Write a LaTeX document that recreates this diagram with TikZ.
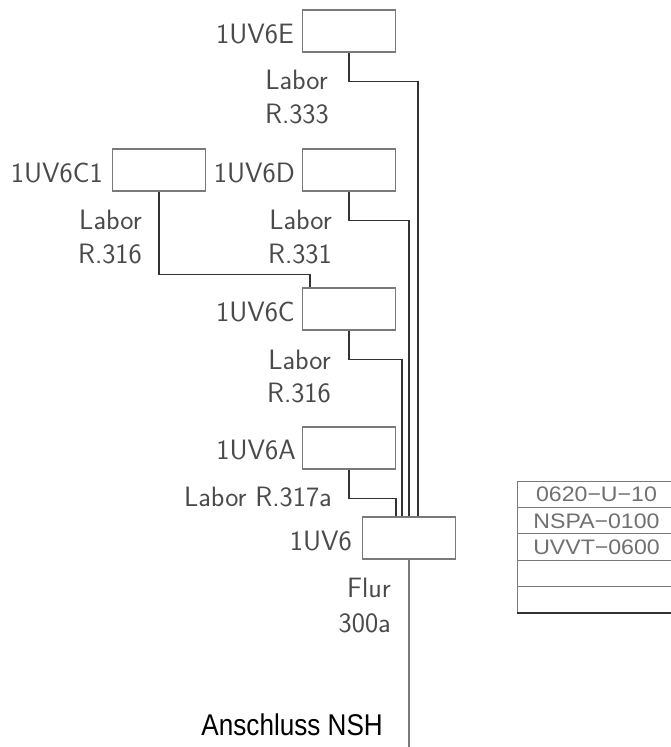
\documentclass[tikz,border=0pt]{standalone}
\usepackage{fontspec}
\newfontfamily\arialwide[FakeStretch=1.1]{Liberation Sans}
\newfontfamily\arialnarrow[FakeStretch=0.87]{Liberation Sans}
\definecolor{boxgray}{HTML}{7A7A7A}
\definecolor{wiregray}{HTML}{333333}
\definecolor{cadtext}{HTML}{4A4A4A}
\definecolor{tabtext}{HTML}{707070}
\newcommand{\mns}{\symbol{"2212}}
\begin{document}
\begin{tikzpicture}[x=1pt,y=-1pt,
  dev/.style={draw=boxgray,line width=1.1pt,minimum width=93pt,minimum height=42pt,inner sep=0pt},
  lbl/.style={inner sep=0pt,anchor=base east,text=cadtext,font=\sffamily\fontsize{28}{30}\selectfont},
  wire/.style={draw=wiregray,line width=1.1pt},
  cell/.style={draw=boxgray,line width=1pt,minimum width=158pt,minimum height=26.2pt,inner sep=0pt,anchor=north west,text=tabtext,font=\arialwide\fontsize{21}{22}\selectfont}]
\useasboundingbox (0,0) rectangle (670,747);

% devices
\node[dev] (E)  at (349,31)  {};
\node[dev] (D)  at (349,170) {};
\node[dev] (C1) at (159,170) {};
\node[dev] (C)  at (349,309) {};
\node[dev] (A)  at (349,448) {};
\node[dev] (U)  at (409,538) {};

% device labels
\node[lbl] (tE)  at (294,43)  {1UV6E};
\node[lbl] (tC1) at (103,182) {1UV6C1};
\node[lbl] (tD)  at (295,182) {1UV6D};
\node[lbl] (tC)  at (295,321) {1UV6C};
\node[lbl] (tA)  at (296,459) {1UV6A};
\node[lbl] (tU)  at (352,550) {1UV6};

% room labels
\node[lbl] (rE1)  at (328,89)  {Labor};
\node[lbl] (rE2)  at (329,123) {R.333};
\node[lbl] (rC11) at (142,229) {Labor};
\node[lbl] (rC12) at (142,263) {R.316};
\node[lbl] (rD1)  at (332,229) {Labor};
\node[lbl] (rD2)  at (332,263) {R.331};
\node[lbl] (rC1)  at (331,369) {Labor};
\node[lbl] (rC2)  at (331,402) {R.316};
\node[lbl] (rA)   at (332,506) {Labor R.317a};
\node[lbl] (rU1)  at (391,597) {Flur};
\node[lbl] (rU2)  at (391,632) {300a};

% wires
\coordinate (bottom) at (409,747);
\draw[wire] (E.south) -- ++(0,29) -| ([xshift=9pt]U.north);
\draw[wire] (D.south) -- ++(0,29) -| (U.north);
\draw[wire] (C.south) -- ++(0,29) -| ([xshift=-7pt]U.north);
\draw[wire] (A.south) -- ++(0,29) -| ([xshift=-13pt]U.north);
\draw[wire] (C1.south) -- ++(0,83) -| ([xshift=8pt]C.north west);
\draw[wire,draw=boxgray] (U.south) -- (bottom);

% feed label
\node[inner sep=0pt,anchor=base east,font=\arialnarrow\fontsize{30}{32}\selectfont] (nsh) at (383,735) {Anschluss NSH};

% table
\node[cell] (t1) at (517,481)   {0620\mns U\mns 10};
\node[cell] (t2) at (517,507.2) {NSPA\mns 0100};
\node[cell] (t3) at (517,533.4) {UVVT\mns 0600};
\node[cell] (t4) at (517,559.6) {};
\node[cell] (t5) at (517,585.8) {};
\draw[wiregray,line width=1.1pt] (t5.south west) -- (t5.south east);
\end{tikzpicture}
\end{document}
